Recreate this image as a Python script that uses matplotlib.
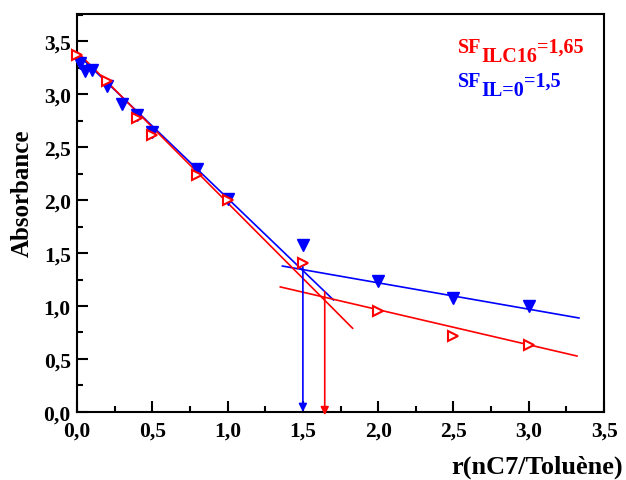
import matplotlib
matplotlib.use("Agg")
import matplotlib.pyplot as plt
from matplotlib.ticker import MultipleLocator, FuncFormatter

plt.rcParams['font.family'] = ['Liberation Serif', 'DejaVu Serif']
plt.rcParams['font.weight'] = 'bold'

# blue series (IL = 0)
x_blue = [0.02, 0.05, 0.1, 0.2, 0.3, 0.4, 0.5, 0.8, 1.0, 1.5, 2.0, 2.5, 3.0]
y_blue = [3.29, 3.22, 3.23, 3.08, 2.91, 2.80, 2.64, 2.29, 2.01, 1.58, 1.24, 1.075, 0.997]

# red series (ILC16)
x_red = [0.0, 0.2, 0.4, 0.5, 0.8, 1.0, 1.5, 2.0, 2.5, 3.0]
y_red = [3.37, 3.12, 2.77, 2.61, 2.24, 2.00, 1.41, 0.955, 0.714, 0.632]

# fitted lines, end points
blue_steep_x = [0.0, 1.703]
blue_steep_y = [3.38, 1.057]
blue_flat_x = [1.364, 3.333]
blue_flat_y = [1.377, 0.887]
red_steep_x = [0.0, 1.83]
red_steep_y = [3.40, 0.79]
red_flat_x = [1.35, 3.32]
red_flat_y = [1.18, 0.528]

# onset arrows (x, top y)
sf_blue = (1.5, 1.368)
sf_red = (1.645, 1.135)

fig = plt.figure(figsize=(6.26, 4.81), dpi=100)
ax = fig.add_axes([0.123, 0.1414, 0.842, 0.8274])

ax.plot(blue_steep_x, blue_steep_y, color='blue', lw=1.2)
ax.plot(blue_flat_x, blue_flat_y, color='blue', lw=1.2)
ax.plot(red_steep_x, red_steep_y, color='red', lw=1.2)
ax.plot(red_flat_x, red_flat_y, color='red', lw=1.2)

ax.plot(x_blue, y_blue, linestyle='none', marker='v', markersize=8,
        color='blue', markeredgecolor='blue', clip_on=False, zorder=3)
ax.plot(x_red, y_red, linestyle='none', marker='>', markersize=6.5,
        markerfacecolor='white', markeredgecolor='red', markeredgewidth=1.5,
        clip_on=False, zorder=3)

ax.annotate('', xy=(sf_blue[0], 0.0), xytext=sf_blue,
            arrowprops=dict(arrowstyle='-|>', color='blue', lw=1.2,
                            mutation_scale=12, shrinkA=0, shrinkB=0))
ax.annotate('', xy=(sf_red[0], -0.03), xytext=sf_red,
            arrowprops=dict(arrowstyle='-|>', color='red', lw=1.2,
                            mutation_scale=12, shrinkA=0, shrinkB=0),
            annotation_clip=False)

ax.set_xlim(0, 3.5)
ax.set_ylim(0, 3.755)
ax.xaxis.set_major_locator(MultipleLocator(0.5))
ax.xaxis.set_minor_locator(MultipleLocator(0.25))
ax.yaxis.set_major_locator(MultipleLocator(0.5))
ax.yaxis.set_minor_locator(MultipleLocator(0.25))
comma = FuncFormatter(lambda v, p: f"{v:.1f}".replace('.', ','))
ax.xaxis.set_major_formatter(comma)
ax.yaxis.set_major_formatter(comma)
ax.tick_params(which='both', direction='in', top=False, right=False,
               labelsize=15.5, width=1.5)
ax.tick_params(axis='x', pad=6)
ax.tick_params(axis='y', pad=4.5)
ax.tick_params(which='major', length=8)
ax.tick_params(which='minor', length=4)
for s in ax.spines.values():
    s.set_linewidth(1.5)

fig.text(22.5 / 626, 1 - 193.5 / 481, 'Absorbance', rotation=90, fontsize=18,
         fontweight='bold', ha='center', va='center')
fig.text(623 / 626, 1 - 467 / 481, 'r(nC7/Toluène)', fontsize=19,
         fontweight='bold', ha='right', va='center')


def sf_label(x_px, base_px, sub, value, color):
    kw = dict(fontsize=14.5, fontweight='bold', color=color, va='baseline')
    t1 = fig.text(x_px / 626, 1 - base_px / 481, 'SF', **kw)
    t2 = ax.annotate(sub, xy=(1, 0), xycoords=t1, xytext=(0, -6.5),
                     textcoords='offset points', ha='left', va='bottom',
                     fontsize=14.5, fontweight='bold', color=color)
    ax.annotate(value, xy=(1, 0), xycoords=t2, xytext=(0, 6.5),
                textcoords='offset points', ha='left', va='bottom',
                fontsize=14.5, fontweight='bold', color=color)


sf_label(458, 53, 'ILC16', '=1,65', 'red')
sf_label(458, 87, 'IL=0', '=1,5', 'blue')

fig.savefig('out.png', dpi=100)
